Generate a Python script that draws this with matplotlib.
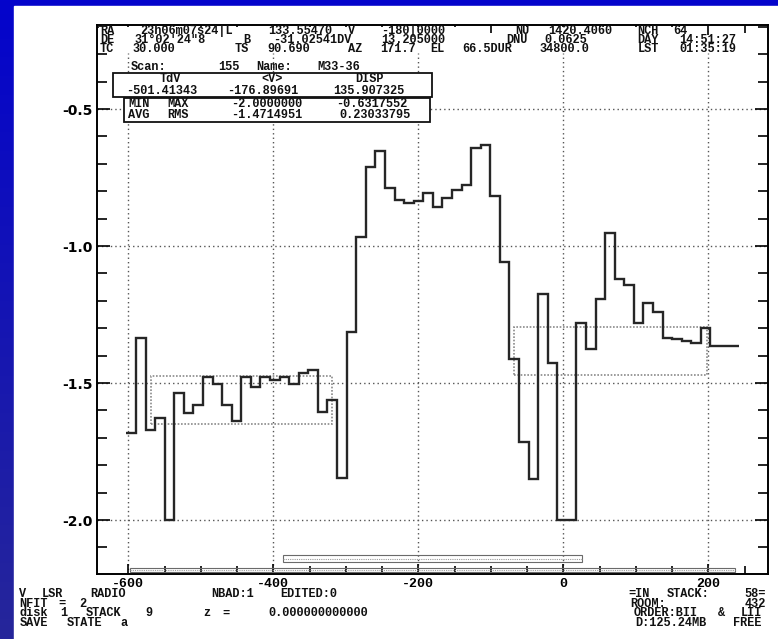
import matplotlib.pyplot as plt
import numpy as np
from matplotlib.patches import Rectangle
from matplotlib.colors import LinearSegmentedColormap
from matplotlib.ticker import MultipleLocator, FormatStrFormatter

plt.rcParams['axes.unicode_minus'] = False

W, H = 778, 639  # canvas size in pixels

# channel edges, km/s (64 channels of 13.205 km/s around V = -180)
vel_edges = [-602.6, -589.4, -576.2, -562.9, -549.7, -536.5, -523.3, -510.1,
             -496.9, -483.7, -470.5, -457.3, -444.1, -430.9, -417.7, -404.5,
             -391.3, -378.1, -364.9, -351.7, -338.5, -325.3, -312.1, -298.8,
             -285.6, -272.4, -259.2, -246.0, -232.8, -219.6, -206.4, -193.2,
             -180.0, -166.8, -153.6, -140.4, -127.2, -114.0, -100.8, -87.6,
             -74.4, -61.2, -48.0, -34.8, -21.6, -8.3, 4.9, 18.1,
             31.3, 44.5, 57.7, 70.9, 84.1, 97.3, 110.5, 123.7,
             136.9, 150.1, 163.3, 176.5, 189.7, 202.9, 216.2, 229.4,
             242.6]

# antenna temperature per channel
tant = [-1.681, -1.336, -1.672, -1.629, -2.000, -1.538, -1.611, -1.580,
        -1.478, -1.504, -1.580, -1.638, -1.479, -1.513, -1.477, -1.489,
        -1.479, -1.504, -1.465, -1.453, -1.605, -1.562, -1.846, -1.315,
        -0.968, -0.711, -0.653, -0.787, -0.832, -0.844, -0.837, -0.805,
        -0.859, -0.826, -0.796, -0.776, -0.642, -0.632, -0.816, -1.057,
        -1.413, -1.715, -1.850, -1.176, -1.428, -2.000, -2.000, -1.279,
        -1.377, -1.193, -0.951, -1.120, -1.141, -1.279, -1.206, -1.240,
        -1.335, -1.341, -1.348, -1.355, -1.300, -1.364, -1.364, -1.364]

# baseline windows: velocity span and level span
nrg_left_v = [-569.0, -318.6]
nrg_left_t = [-1.650, -1.474]
nrg_right_v = [-68.3, 197.9]
nrg_right_t = [-1.470, -1.297]

# range bars under the spectrum
bar_upper_v = [-386.6, 25.8]
bar_upper_t = [-2.153, -2.128]
bar_lower_v = [-597.7, 236.8]
bar_lower_t = [-2.190, -2.175]

grid_v = [-600, -400, -200, 0, 200]
grid_t = [-0.5, -1.0, -1.5, -2.0]

MONO = 'Liberation Mono'


def fx(x):
    return x / W


def fy(y):
    return 1 - y / H


def white_box(x0, y0, x1, y1, edge='none', lw=0):
    fig.add_artist(Rectangle((fx(x0), fy(y1)), fx(x1) - fx(x0),
                             fy(y0) - fy(y1), transform=fig.transFigure,
                             facecolor='white', edgecolor=edge, lw=lw,
                             zorder=2))


fig = plt.figure(figsize=(W / 100, H / 100), dpi=100)

# slide background: blue gradient with a white panel on it
bg = fig.add_axes([0, 0, 1, 1], zorder=-10)
grad = np.linspace(0, 1, 256)[:, None]
cmap = LinearSegmentedColormap.from_list('slide', ['#0404cc', '#26269a'])
bg.imshow(grad, aspect='auto', cmap=cmap, extent=[0, 1, 0, 1])
bg.add_patch(Rectangle((fx(14), 0), 1 - fx(14), fy(6), color='white'))
bg.set_xlim(0, 1)
bg.set_ylim(0, 1)
bg.axis('off')

ax = fig.add_axes([fx(97), fy(574), (768 - 97) / W, (574 - 25) / H])
ax.set_xlim(-643.2, 282.3)
ax.set_ylim(-2.197, -0.193)

# dotted grid (vertical lines stop under the header)
gs = dict(colors='#555555', linestyles=(0, (1, 2.2)), lw=1.0, zorder=1)
ax.vlines(grid_v, -2.197, -0.296, **gs)
ax.hlines(grid_t, -643.2, 282.3, **gs)

# baseline windows
for vv, tt in [(nrg_left_v, nrg_left_t), (nrg_right_v, nrg_right_t)]:
    ax.add_patch(Rectangle((vv[0], tt[0]), vv[1] - vv[0], tt[1] - tt[0],
                           fill=False, edgecolor='#8a8a8a',
                           linestyle=(0, (1, 1)), lw=1.2, zorder=3))

# range bars
for vv, tt in [(bar_upper_v, bar_upper_t), (bar_lower_v, bar_lower_t)]:
    ax.add_patch(Rectangle((vv[0], tt[0]), vv[1] - vv[0], tt[1] - tt[0],
                           fill=False, edgecolor='#6a6a6a', lw=0.8, zorder=3))
    ax.hlines((tt[0] + tt[1]) / 2, vv[0], vv[1], colors='#9a9a9a',
              linestyles=(0, (1, 1)), lw=0.8, zorder=3)

# the spectrum
ax.stairs(tant, vel_edges, baseline=None, color='#262626', lw=1.7, zorder=4)

ax.xaxis.set_major_locator(MultipleLocator(200))
ax.xaxis.set_minor_locator(MultipleLocator(50))
ax.yaxis.set_major_locator(MultipleLocator(0.5))
ax.yaxis.set_minor_locator(MultipleLocator(0.1))
ax.xaxis.set_major_formatter(FormatStrFormatter('%d'))
ax.yaxis.set_major_formatter(FormatStrFormatter('%.1f'))
ax.tick_params(which='both', direction='in', top=True, right=True,
               colors='black', width=1.2)
ax.tick_params(axis='y', which='major', length=9.5, pad=3)
ax.tick_params(axis='y', which='minor', length=7.2)
ax.tick_params(axis='x', which='major', length=7, pad=3)
ax.tick_params(axis='x', which='minor', length=6)
for lab in ax.get_yticklabels():
    lab.set_fontfamily('DejaVu Sans')
    lab.set_fontweight('bold')
    lab.set_fontsize(10)
for lab in ax.get_xticklabels():
    lab.set_fontfamily(MONO)
    lab.set_fontweight('bold')
    lab.set_fontsize(9.5)
for sp in ax.spines.values():
    sp.set_linewidth(1.4)
    sp.set_color('black')


def put(y, tokens, size=8.6):
    for x, s in tokens:
        fig.text(fx(x), fy(y), s, ha='center', va='center', fontsize=size,
                 fontfamily=MONO, fontweight='bold', color='#111111')


# the header text blanks the top ticks under its first line
white_box(98.5, 26.5, 462, 36)
white_box(502, 26.5, 690, 36)

# header lines
put(31, [(107, 'RA'), (187, '23h06m07s24|L'), (300, '133.55470'),
         (352, 'V'), (413, '-180|0000'), (522, 'NU'), (580, '1420.4060'),
         (648, 'NCH'), (680, '64')])
put(40, [(107, 'DE'), (170, '31°02\'24"8'), (247, 'B'),
         (312, '-31.02541DV'), (413, '13.205000'), (517, 'DNU'),
         (566, '0.0625'), (648, 'DAY'), (708, '14:51:27')])
put(49, [(107, 'TC'), (154, '30.000'), (242, 'TS'), (289, '90.690'),
         (355, 'AZ'), (398, '171.7'), (437, 'EL'), (487, '66.5DUR'),
         (564, '34800.0'), (648, 'LST'), (708, '01:35:19')])
put(67.5, [(149, 'Scan:'), (229, '155'), (274, 'Name:'), (339, 'M33-36')])

# statistics boxes
white_box(113, 73, 432, 97, edge='#111111', lw=1.3)
white_box(124, 98, 430, 122, edge='#111111', lw=1.3)
put(79, [(170, 'TdV'), (272, '<V>'), (369, 'DISP')])
put(90.5, [(162, '-501.41343'), (263, '-176.89691'), (369, '135.907325')])
put(104, [(139, 'MIN'), (178, 'MAX'), (267, '-2.0000000'),
          (372, '-0.6317552')])
put(114.5, [(139, 'AVG'), (178, 'RMS'), (267, '-1.4714951'),
            (375, '0.23033795')])

# status lines under the plot
put(594, [(23, 'V'), (52, 'LSR'), (108, 'RADIO'), (233, 'NBAD:1'),
          (309, 'EDITED:0'), (639, '=IN'), (688, 'STACK:'), (755, '58=')])
put(604, [(34, 'NFIT'), (62, '='), (83, '2'), (648, 'ROOM:'), (755, '432')])
put(613.5, [(34, 'disk'), (64, '1'), (104, 'STACK'), (149, '9'),
            (207, 'z'), (226, '='), (318, '0.000000000000'),
            (666, 'ORDER:BII'), (721, '&'), (751, 'LII')])
put(623, [(34, 'SAVE'), (85, 'STATE'), (124, 'a'), (671, 'D:125.24MB'),
          (747, 'FREE')])

fig.savefig('out.png', dpi=100)
